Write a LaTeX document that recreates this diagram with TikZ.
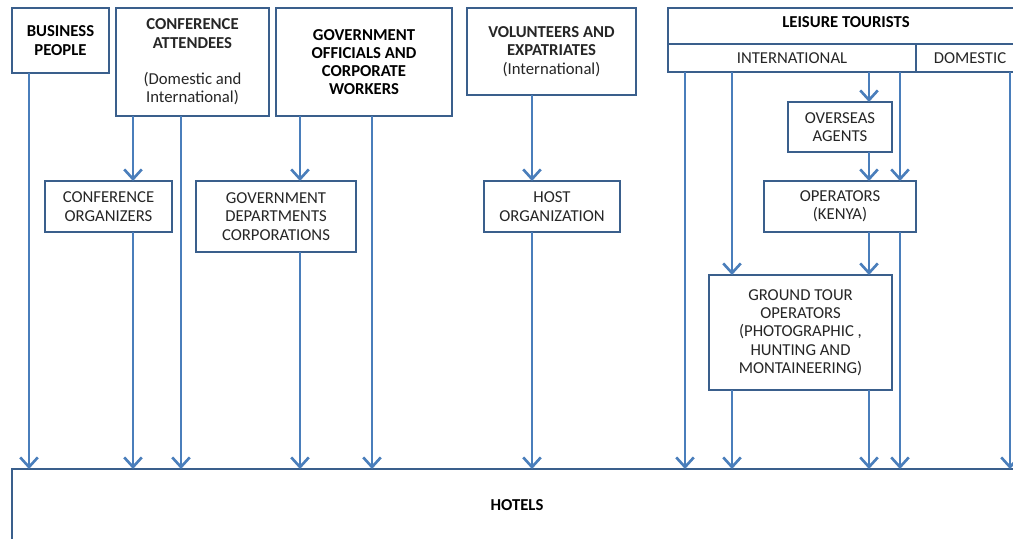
\documentclass[tikz,border=0pt]{standalone}
\usepackage{fontspec}
\setmainfont{Carlito}
\usetikzlibrary{arrows.meta}
\definecolor{boxline}{HTML}{3A5F8C}
\definecolor{arrline}{HTML}{4A7EBB}
\begin{document}
\begin{tikzpicture}[x=0.02cm,y=-0.02cm,
    box/.style={draw=boxline,line width=1.4pt,fill=white,inner sep=0pt,outer sep=0pt,
      align=center,font=\fontsize{9.5}{10.4}\selectfont,text=black!85},
    head/.style={box,font=\fontsize{9.5}{10.4}\selectfont\bfseries,text=black},
    arr/.style={draw=arrline,line width=1.6pt,-{Straight Barb[length=5.5pt,width=10pt,line width=1.5pt]}}]
       \useasboundingbox (0,0) rectangle (1013,538);
       \clip (0,0) rectangle (1013,538);
       % top row
       \node[head,minimum width=1.94cm,minimum height=1.30cm] (bp) at (60.5,40.5) {BUSINESS\\PEOPLE};
       \node[box,minimum width=3.06cm,minimum height=2.16cm] (ca) at (192.5,62)
         {\textbf{CONFERENCE}\\\textbf{ATTENDEES}\\[10.4pt](Domestic and\\International)};
       \node[head,minimum width=3.52cm,minimum height=2.16cm] (go) at (364,62)
         {GOVERNMENT\\OFFICIALS AND\\CORPORATE\\WORKERS};
       \node[box,minimum width=3.38cm,minimum height=1.74cm] (ve) at (551.5,51.5)
         {\textbf{VOLUNTEERS AND}\\\textbf{EXPATRIATES}\\(International)};
       \node[head,minimum width=7.12cm,minimum height=0.72cm] (lt) at (846,26) {};
       \node[font=\fontsize{9.5}{10.4}\selectfont\bfseries,inner sep=0pt] (ltx) at (846,22) {LEISURE TOURISTS};
       \node[box,minimum width=4.96cm,minimum height=0.56cm] (in) at (792,58) {INTERNATIONAL};
       \node[box,minimum width=2.16cm,minimum height=0.56cm] (do) at (970,58) {DOMESTIC};
       % middle boxes
       \node[box,minimum width=2.54cm,minimum height=1.02cm] (co) at (108.5,206.5) {CONFERENCE\\ORGANIZERS};
       \node[box,minimum width=3.20cm,minimum height=1.42cm] (gd) at (276,216.5)
         {GOVERNMENT\\DEPARTMENTS\\CORPORATIONS};
       \node[box,minimum width=2.72cm,minimum height=1.02cm] (ho) at (552,206.5) {HOST\\ORGANIZATION};
       \node[box,minimum width=2.08cm,minimum height=1.00cm] (oa) at (840,127) {OVERSEAS\\AGENTS};
       \node[box,minimum width=3.04cm,minimum height=1.02cm] (ok) at (840,206.5) {OPERATORS\\(KENYA)};
       \node[box,minimum width=3.66cm,minimum height=2.30cm] (gt) at (800.5,332.5)
         {GROUND TOUR\\OPERATORS\\(PHOTOGRAPHIC ,\\HUNTING AND\\MONTAINEERING)};
       % bottom
       \node[head,minimum width=20.20cm,minimum height=1.44cm] (ht) at (517,505) {HOTELS};
       % arrow columns
       \coordinate (x1) at (29,0);
       \coordinate (x2) at (133,0);
       \coordinate (x3) at (181,0);
       \coordinate (x4) at (300,0);
       \coordinate (x5) at (372,0);
       \coordinate (x6) at (532,0);
       \coordinate (x7) at (685,0);
       \coordinate (x8) at (732,0);
       \coordinate (x9) at (869,0);
       \coordinate (x10) at (900,0);
       \coordinate (x11) at (1010,0);
       \draw [arr] (bp.south -| x1) -- (ht.north -| x1);
       \draw [arr] (ca.south -| x2) -- (co.north -| x2);
       \draw [arr] (co.south -| x2) -- (ht.north -| x2);
       \draw [arr] (ca.south -| x3) -- (ht.north -| x3);
       \draw [arr] (go.south -| x4) -- (gd.north -| x4);
       \draw [arr] (gd.south -| x4) -- (ht.north -| x4);
       \draw [arr] (go.south -| x5) -- (ht.north -| x5);
       \draw [arr] (ve.south -| x6) -- (ho.north -| x6);
       \draw [arr] (ho.south -| x6) -- (ht.north -| x6);
       \draw [arr] (in.south -| x7) -- (ht.north -| x7);
       \draw [arr] (in.south -| x8) -- (gt.north -| x8);
       \draw [arr] (in.south -| x9) -- (oa.north -| x9);
       \draw [arr] (oa.south -| x9) -- (ok.north -| x9);
       \draw [arr] (in.south -| x10) -- (ok.north -| x10);
       \draw [arr] (ok.south -| x9) -- (gt.north -| x9);
       \draw [arr] (gt.south -| x8) -- (ht.north -| x8);
       \draw [arr] (gt.south -| x9) -- (ht.north -| x9);
       \draw [arr] (ok.south -| x10) -- (ht.north -| x10);
       \draw [arr] (do.south -| x11) -- (ht.north -| x11);
     \end{tikzpicture}
\end{document}
